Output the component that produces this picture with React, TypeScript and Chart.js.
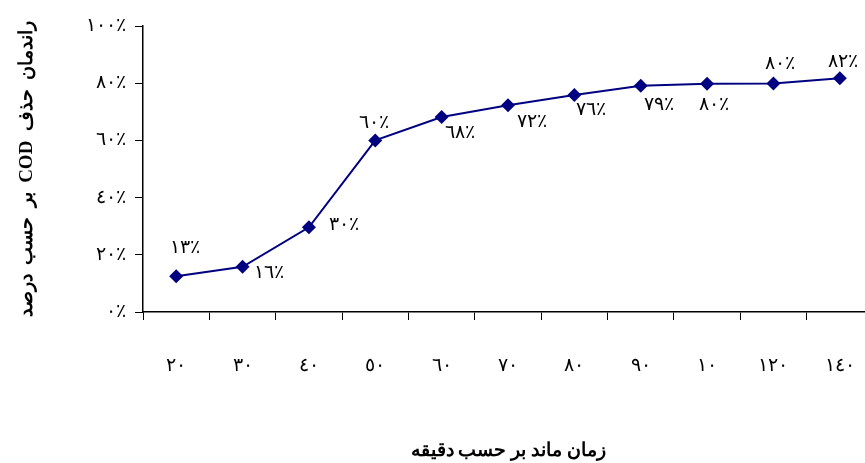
import React, { useEffect, useRef } from "react";
import { Chart, registerables } from "chart.js";

Chart.register(...registerables);

// Retention time categories (as printed on the axis)
const CATEGORIES = ["٢٠", "٣٠", "٤٠", "٥٠", "٦٠", "٧٠", "٨٠", "٩٠", "١٠", "١٢٠", "١٤٠"];
// COD removal efficiency (fraction)
const EFFICIENCY = [0.125, 0.158, 0.296, 0.6, 0.682, 0.723, 0.759, 0.791, 0.798, 0.799, 0.817];
// Data label offsets from the marker (dx, dy in px)
const LABEL_OFFSETS: [number, number][] = [
  [7, -28], [25, 6], [34, -2], [-3, -17], [17, 16], [22, 17],
  [15, 15], [17, 19], [5, 21], [5, -19], [2, -16],
];
const Y_TICKS = [0, 0.2, 0.4, 0.6, 0.8, 1];

const X_TITLE = "زمان ماند بر حسب دقيقه";
const Y_TITLE = "راندمان  حذف  COD  بر  حسب  درصد";

const AR_DIGITS = "٠١٢٣٤٥٦٧٨٩";
const toAr = (n: number) => String(n).replace(/\d/g, (d) => AR_DIGITS[Number(d)]);
const pct = (v: number) => toAr(Math.round(v * 100)) + "٪";

const FONT = "'Times New Roman', 'Liberation Serif', 'DejaVu Serif', serif";
const SPACING = "3px";
const NUM_SIZE = 19;

const textPlugin = {
  id: "textExtras",
  beforeDraw(chart: any) {
    chart.ctx.letterSpacing = SPACING;
  },
  afterDatasetsDraw(chart: any) {
    const meta = chart.getDatasetMeta(0);
    const ctx = chart.ctx;
    ctx.save();
    ctx.letterSpacing = SPACING;
    ctx.font = `${NUM_SIZE}px ${FONT}`;
    ctx.fillStyle = "#000";
    ctx.textAlign = "center";
    ctx.textBaseline = "middle";
    meta.data.forEach((pt: any, i: number) => {
      const [dx, dy] = LABEL_OFFSETS[i] || [0, -16];
      ctx.fillText(pct(EFFICIENCY[i]), pt.x + dx + 1.5, pt.y + dy);
    });
    ctx.restore();
  },
  afterDraw(chart: any) {
    const ctx = chart.ctx;
    const area = chart.chartArea;
    ctx.save();
    ctx.letterSpacing = "0px";
    ctx.direction = "rtl";
    ctx.fillStyle = "#000";
    ctx.textAlign = "center";
    ctx.textBaseline = "middle";
    ctx.font = `bold 19px ${FONT}`;
    // x title
    ctx.fillText(X_TITLE, (area.left + area.right) / 2, 451);
    // y title
    ctx.translate(27, (area.top + area.bottom) / 2);
    ctx.rotate(-Math.PI / 2);
    ctx.fillText(Y_TITLE, 0, 0);
    ctx.restore();
    ctx.letterSpacing = "0px";
  },
};

export default function App() {
  const ref = useRef<HTMLCanvasElement>(null);
  useEffect(() => {
    if (!ref.current) return;
    const chart = new Chart(ref.current, {
      type: "line",
      data: {
        labels: CATEGORIES,
        datasets: [
          {
            data: EFFICIENCY,
            borderColor: "#000080",
            backgroundColor: "#000080",
            borderWidth: 2,
            pointStyle: "rectRot",
            pointRadius: 7,
            pointBorderWidth: 0,
            tension: 0,
            fill: false,
          },
        ],
      },
      options: {
        responsive: false,
        animation: false,
        layout: { padding: { top: 26, right: 4, left: 0, bottom: 0 } },
        plugins: {
          legend: { display: false },
          tooltip: { enabled: false },
        },
        scales: {
          x: {
            type: "category",
            offset: true,
            grid: {
              offset: true,
              drawOnChartArea: false,
              drawTicks: true,
              tickLength: 8,
              color: "#000",
              lineWidth: 1,
            },
            border: { color: "#000", width: 1.5 },
            ticks: {
              color: "#000",
              font: { family: FONT, size: NUM_SIZE },
              padding: 35,
              maxRotation: 0,
              autoSkip: false,
            },
            title: { display: false },
            afterFit(scale: any) {
              scale.height = 151;
              scale.paddingLeft = 0;
              scale.paddingRight = 0;
            },
          },
          y: {
            min: 0,
            max: 1,
            afterBuildTicks(scale: any) {
              scale.ticks = Y_TICKS.map((v) => ({ value: v }));
            },
            grid: {
              drawOnChartArea: false,
              drawTicks: true,
              tickLength: 8,
              color: "#000",
              lineWidth: 1,
            },
            border: { color: "#000", width: 1.5 },
            ticks: {
              color: "#000",
              font: { family: FONT, size: NUM_SIZE },
              padding: 9,
              callback: (v: any) => pct(Number(v)),
            },
            title: { display: false },
            afterFit(scale: any) {
              scale.width = 143;
              scale.paddingTop = 0;
              scale.paddingBottom = 0;
            },
          },
        },
      },
      plugins: [textPlugin],
    });
    return () => chart.destroy();
  }, []);

  return (
    <div
      style={{
        position: "fixed",
        left: 0,
        top: 0,
        width: 865,
        height: 463,
        overflow: "hidden",
        background: "#fff",
      }}
    >
      <div style={{ width: 880, height: 463 }}>
        <canvas ref={ref} width={880} height={463} style={{ display: "block", width: 880, height: 463 }} />
      </div>
    </div>
  );
}
